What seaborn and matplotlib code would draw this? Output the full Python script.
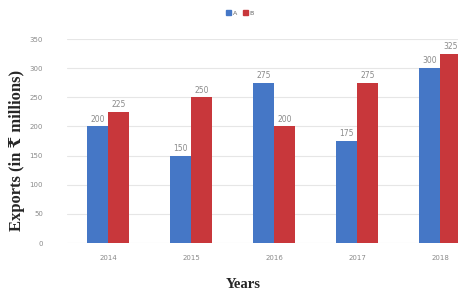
import matplotlib
matplotlib.use("Agg")
import matplotlib.pyplot as plt
from matplotlib.patches import Patch
import seaborn as sns
import pandas as pd

years = ["2014", "2015", "2016", "2017", "2018"]
series_a = [200, 150, 275, 175, 300]
series_b = [225, 250, 200, 275, 325]
y_ticks = [0, 50, 100, 150, 200, 250, 300, 350]

df = pd.DataFrame({
    "Years": years * 2,
    "Exports": series_a + series_b,
    "Series": ["A"] * len(years) + ["B"] * len(years),
})

BLUE, RED = "#4577c6", "#c8373b"

sns.set_style("white")
W, H = 458, 295
fig = plt.figure(figsize=(W / 100, H / 100), dpi=100)
# plot area runs past the right edge, as in the cropped original
ax = fig.add_axes([66.5 / W, 52 / H, 415 / W, 204 / H])

sns.barplot(data=df, x="Years", y="Exports", hue="Series", order=years,
            palette={"A": BLUE, "B": RED}, width=0.5, linewidth=0,
            saturation=1, ax=ax, legend=False)

ax.set_ylim(0, 350)
ax.set_yticks(y_ticks)
ax.set_yticklabels([str(v) for v in y_ticks])
ax.grid(axis="y", color="#e6e6e6", linewidth=0.8)
ax.set_axisbelow(True)
for s in ax.spines.values():
    s.set_visible(False)
ax.tick_params(axis="y", length=0, labelsize=5, labelcolor="#8a8a8a", pad=17)
ax.tick_params(axis="x", length=0, labelsize=5, labelcolor="#8a8a8a", pad=9)

for cont in ax.containers:
    ax.bar_label(cont, fontsize=5.5, color="#8a8a8a", padding=2)

ax.set_xlabel("")
ax.set_ylabel("")
fig.text(17 / W, 1 - 150 / H, "Exports (in \u20b9 millions)", rotation=90,
         ha="center", va="center", fontsize=12, fontweight="bold",
         family=["Liberation Serif", "DejaVu Serif"])
fig.text(243 / W, 1 - 285 / H, "Years", ha="center", va="center",
         fontsize=10.5, fontweight="bold", family=["Liberation Serif", "DejaVu Serif"])

handles = [Patch(color=BLUE, label="A"), Patch(color=RED, label="B")]
fig.legend(handles=handles, loc="center", bbox_to_anchor=(240 / W, 1 - 13 / H),
           ncol=2, frameon=False, fontsize=4.5, handlelength=0.7, handleheight=0.7,
           handletextpad=0.3, columnspacing=1.0, labelcolor="#666666")

fig.savefig("out.png", dpi=100)
